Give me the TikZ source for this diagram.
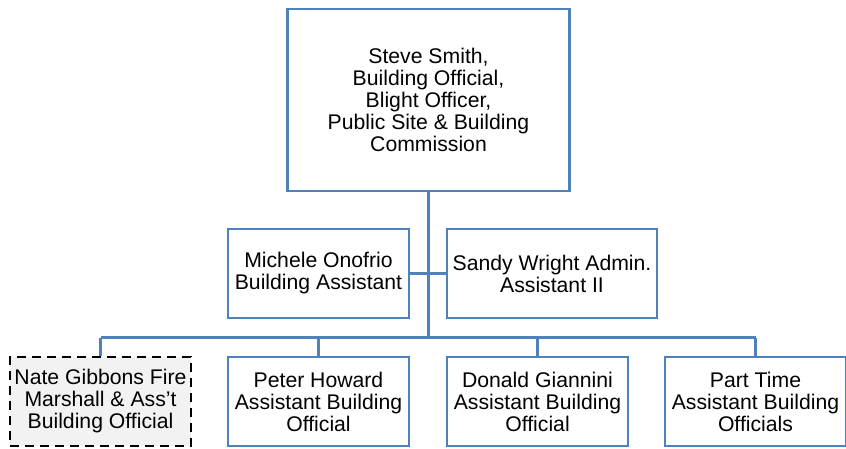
\documentclass[tikz,border=0pt]{standalone}
\usepackage{fontspec}
\setmainfont{Liberation Sans}
\definecolor{linkblue}{RGB}{79,129,189}
\definecolor{boxgray}{RGB}{242,242,242}
\begin{document}
\begin{tikzpicture}[x=1pt,y=-1pt,
  orgbox/.style={draw=linkblue, line width=2.6pt, fill=white, inner sep=0pt,
    align=center, font=\fontsize{21.2}{22}\selectfont},
  dashbox/.style={draw=black, line width=2.8pt, dash pattern=on 9pt off 6pt, fill=boxgray,
    inner sep=0pt, align=center, font=\fontsize{21.2}{22}\selectfont},
  link/.style={draw=linkblue, line width=2.8pt}]
\useasboundingbox (0,0) rectangle (846,448);
\node[orgbox, minimum width=282pt, minimum height=182pt] (top) at (428.5,100)
  {Steve Smith,\\Building Official,\\Blight Officer,\\Public Site \& Building\\Commission};
\node[orgbox, minimum width=181pt, minimum height=89pt] (mich) at (318.5,273.5)
  {Michele Onofrio\\Building Assistant};
\node[orgbox, minimum width=210pt, minimum height=89pt] (sandy) at (552,273.5)
  {Sandy Wright Admin.\\Assistant II};
\node[dashbox, minimum width=181pt, minimum height=89pt] (nate) at (100.5,401.5)
  {Nate Gibbons Fire\\Marshall \& Ass’t\\Building Official};
\node[orgbox, minimum width=181pt, minimum height=89pt] (peter) at (318.5,401.5)
  {Peter Howard\\Assistant Building\\Official};
\node[orgbox, minimum width=181pt, minimum height=89pt] (donald) at (537.5,401.5)
  {Donald Giannini\\Assistant Building\\Official};
\node[orgbox, minimum width=181pt, minimum height=89pt] (part) at (755.5,401.5)
  {Part Time\\Assistant Building\\Officials};
\coordinate (bus) at (428.5,337.5);
\path[link] (top.south) -- (bus);
\path[link] (mich.east) -- (mich.east -| bus);
\path[link] (sandy.west) -- (sandy.west -| bus);
\path[link] (nate.north |- bus) -- (part.north |- bus);
\foreach \n in {nate,peter,donald,part}
  \path[link] (\n.north) -- (\n.north |- bus);
\end{tikzpicture}
\end{document}
